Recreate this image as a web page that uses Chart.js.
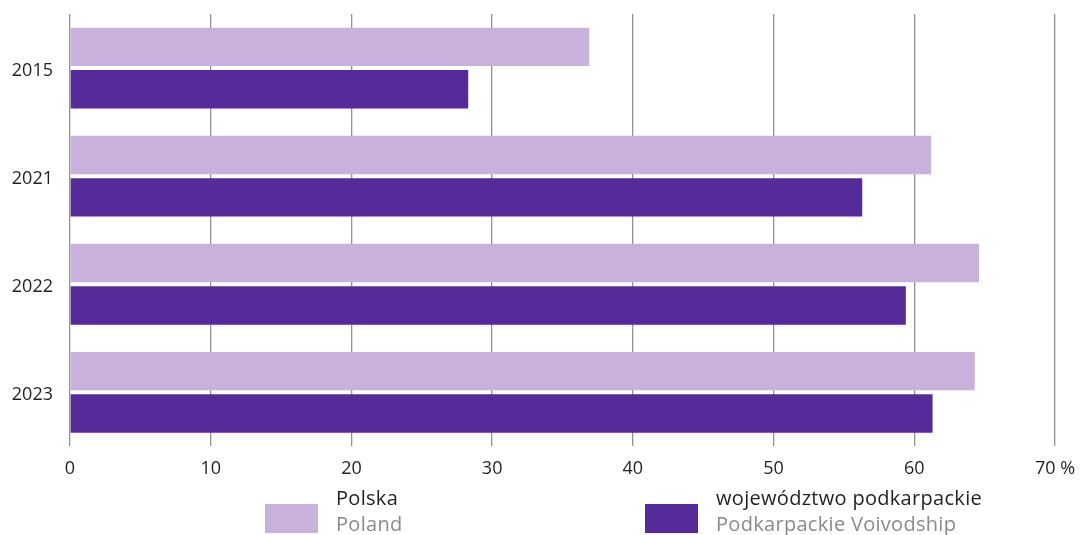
<!DOCTYPE html>
<html lang="pl">
<head>
    <meta charset="UTF-8">
    <title>Polska / województwo podkarpackie</title>
    <style>
        body { margin: 0; background: #fff; font-family: "Open Sans", sans-serif; }
        #wrap { position: relative; width: 1090px; height: 535px; }
        #legend { position: absolute; left: 0; top: 485px; width: 1090px; height: 50px; }
        .item { position: absolute; top: 0; display: flex; align-items: flex-start; }
        .box { width: 53px; height: 29px; margin-top: 19px; margin-right: 18px; }
        .txt { font-size: 20px; line-height: 26px; color: #231f20; white-space: nowrap; letter-spacing: 0.3px; }
        .txt .en { color: #8a8a8a; }
    </style>
</head>
<body>
<div id="wrap">
    <canvas id="chart" width="1090" height="535"></canvas>
    <div id="legend"></div>
</div>

<script src="https://cdn.jsdelivr.net/npm/chart.js"></script>
<script>
    const years = ['2015', '2021', '2022', '2023'];
    const polska = [36.9, 61.2, 64.6, 64.3];
    const podkarpackie = [28.3, 56.3, 59.4, 61.3];
    const xTicks = [0, 10, 20, 30, 40, 50, 60, 70];
    const namesPl = ['Polska', 'województwo podkarpackie'];
    const namesEn = ['Poland', 'Podkarpackie Voivodship'];
    const colors = ['#c8b2db', '#552b9a'];
    const legendX = [265, 645];

    const chart = new Chart(document.getElementById('chart').getContext('2d'), {
        type: 'bar',
        data: {
            labels: years,
            datasets: [
                { label: namesPl[0], data: polska, backgroundColor: colors[0] },
                { label: namesPl[1], data: podkarpackie, backgroundColor: colors[1] }
            ]
        },
        options: {
            indexAxis: 'y',
            responsive: false,
            animation: false,
            barPercentage: 0.905,
            categoryPercentage: 0.785,
            layout: { padding: { top: 14, right: 35, bottom: 43, left: 0 } },
            plugins: { legend: { display: false }, tooltip: { enabled: false } },
            scales: {
                x: {
                    min: 0, max: 70,
                    afterBuildTicks: s => { s.ticks = xTicks.map(v => ({ value: v })); },
                    grid: { color: '#929292', lineWidth: 1.3, drawTicks: false },
                    border: { display: false },
                    ticks: {
                        padding: 12,
                        color: '#231f20',
                        font: { family: 'Open Sans', size: 18 },
                        callback: v => v === 70 ? '70 %' : v
                    }
                },
                y: {
                    afterFit: s => { s.width = 70; s.paddingTop = 0; s.paddingBottom = 0; },
                    grid: { display: false },
                    border: { display: false },
                    ticks: {
                        padding: 9,
                        labelOffset: 3,
                        color: '#231f20',
                        font: { family: 'Open Sans', size: 18 }
                    }
                }
            }
        }
    });

    // legenda pod wykresem (dwie linie: PL / EN)
    const legend = document.getElementById('legend');
    namesPl.forEach((n, i) => {
        const item = document.createElement('div');
        item.className = 'item';
        item.style.left = legendX[i] + 'px';
        item.innerHTML = '<div class="box" style="background:' + colors[i] + '"></div>' +
            '<div class="txt"><div>' + n + '</div><div class="en">' + namesEn[i] + '</div></div>';
        legend.appendChild(item);
    });
</script>
</body>
</html>
